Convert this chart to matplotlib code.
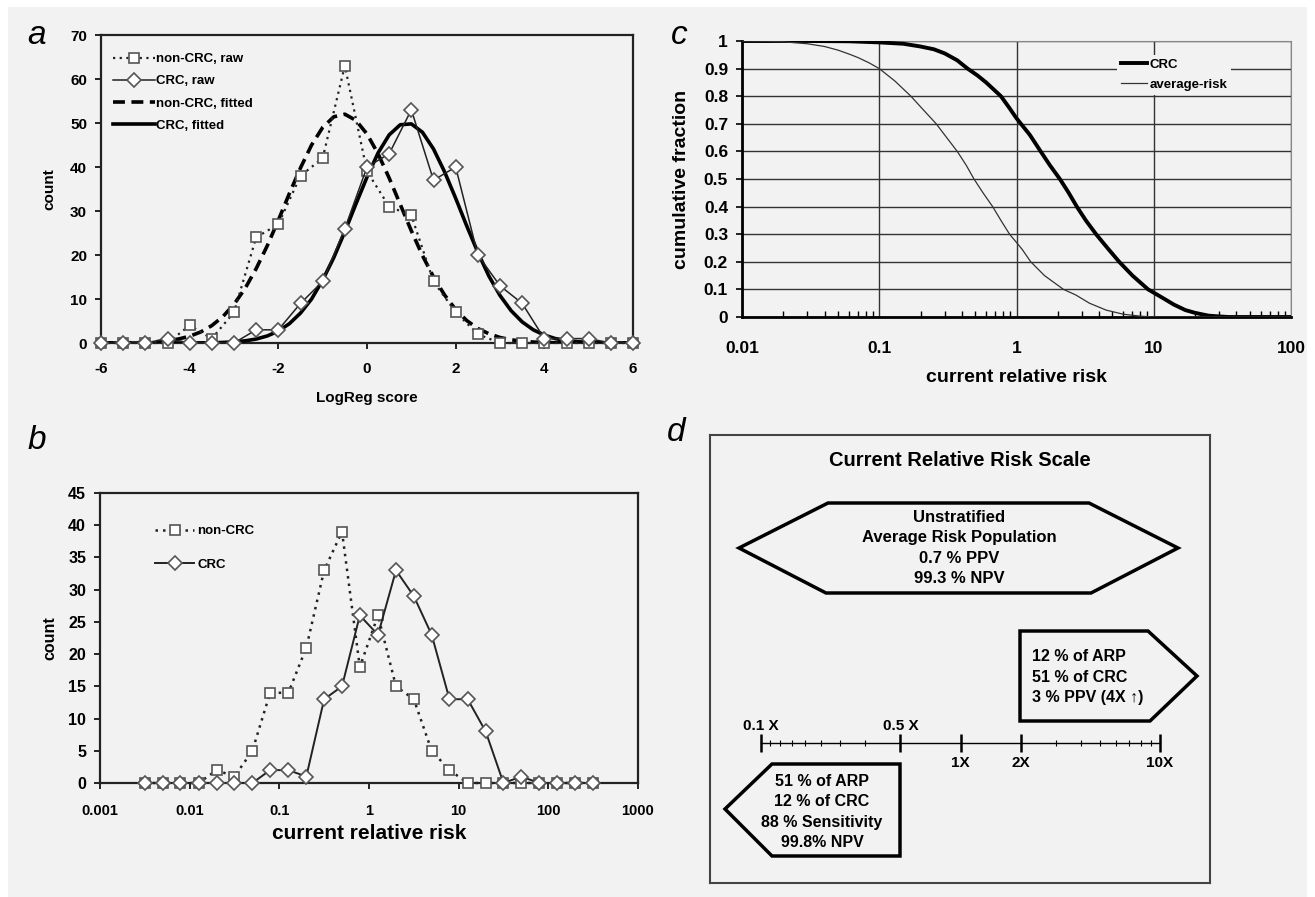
import numpy as np
import matplotlib
matplotlib.use('Agg')
import matplotlib.pyplot as plt
from matplotlib.patches import Polygon, Rectangle
from matplotlib.ticker import NullLocator, FixedLocator

plt.rcParams['font.family'] = ['Liberation Sans', 'DejaVu Sans']
plt.rcParams['font.weight'] = 'bold'
plt.rcParams['axes.labelweight'] = 'bold'

BG = '#f2f2f2'
W, H = 1315, 897

# ---- panel a: LogReg score distributions
score_bins = [-6, -5.5, -5, -4.5, -4, -3.5, -3, -2.5, -2, -1.5, -1, -0.5, 0,
              0.5, 1, 1.5, 2, 2.5, 3, 3.5, 4, 4.5, 5, 5.5, 6]
noncrc_raw = [0, 0, 0, 0, 4, 1, 7, 24, 27, 38, 42, 63, 39,
              31, 29, 14, 7, 2, 0, 0, 0, 0, 0, 0, 0]
crc_raw = [0, 0, 0, 1, 0, 0, 0, 3, 3, 9, 14, 26, 40,
           43, 53, 37, 40, 20, 13, 9, 1, 1, 1, 0, 0]
score_fine = [-6, -5.75, -5.5, -5.25, -5, -4.75, -4.5, -4.25, -4, -3.75, -3.5, -3.25,
              -3, -2.75, -2.5, -2.25, -2, -1.75, -1.5, -1.25, -1, -0.75, -0.5, -0.25,
              0, 0.25, 0.5, 0.75, 1, 1.25, 1.5, 1.75, 2, 2.25, 2.5, 2.75,
              3, 3.25, 3.5, 3.75, 4, 4.25, 4.5, 4.75, 5, 5.25, 5.5, 5.75, 6]
noncrc_fit = [0, 0.02, 0.04, 0.08, 0.15, 0.28, 0.51, 0.91, 1.54, 2.51, 3.96, 6.0,
              8.8, 12.4, 16.9, 22.1, 27.9, 34.0, 39.8, 45.0, 49.0, 51.4, 52.0, 50.6,
              47.5, 43.0, 37.5, 31.5, 25.5, 19.9, 15.0, 10.9, 7.6, 5.1, 3.3, 2.1,
              1.25, 0.73, 0.41, 0.22, 0.11, 0.06, 0.03, 0.01, 0, 0, 0, 0, 0]
crc_fit = [0, 0, 0, 0, 0, 0, 0, 0.01, 0.01, 0.03, 0.06, 0.13,
           0.25, 0.49, 0.9, 1.6, 2.7, 4.4, 6.8, 10.0, 14.3, 19.4, 25.3, 31.6,
           37.7, 43.2, 47.3, 49.6, 49.8, 47.9, 44.1, 38.9, 32.9, 26.6, 20.6, 15.2,
           10.8, 7.35, 4.8, 3.0, 1.8, 1.0, 0.55, 0.29, 0.15, 0.07, 0.03, 0.01, 0]
a_xticks = [-6, -4, -2, 0, 2, 4, 6]
a_xlabels = ['-6', '-4', '-2', '0', '2', '4', '6']

# ---- panel b: current relative risk histogram
risk_bins = [0.0032, 0.005, 0.0079, 0.0126, 0.02, 0.0316, 0.05, 0.079, 0.126,
             0.2, 0.316, 0.5, 0.79, 1.26, 2.0, 3.16, 5.0, 7.9, 12.6, 20,
             31.6, 50, 79, 126, 200, 316]
noncrc_b = [0, 0, 0, 0, 2, 1, 5, 14, 14, 21, 33, 39, 18, 26, 15, 13, 5, 2, 0, 0,
            0, 0, 0, 0, 0, 0]
crc_b = [0, 0, 0, 0, 0, 0, 0, 2, 2, 1, 13, 15, 26, 23, 33, 29, 23, 13, 13, 8,
         0, 1, 0, 0, 0, 0]
b_xticks = [0.001, 0.01, 0.1, 1, 10, 100, 1000]
b_xlabels = ['0.001', '0.01', '0.1', '1', '10', '100', '1000']

# ---- panel c: cumulative fractions
crc_c_x = [0.01, 0.03, 0.06, 0.1, 0.15, 0.2, 0.25, 0.3, 0.37, 0.44, 0.52, 0.6,
           0.68, 0.77, 0.88, 1.0, 1.25, 1.5, 1.75, 2.07, 2.4, 2.75, 3.2, 3.8,
           4.6, 5.6, 7.0, 9.1, 12, 14, 17, 20, 25, 30, 35, 100]
crc_c_y = [1.0, 1.0, 0.999, 0.995, 0.99, 0.98, 0.97, 0.955, 0.93, 0.9, 0.875, 0.85,
           0.825, 0.8, 0.76, 0.72, 0.66, 0.6, 0.55, 0.5, 0.45, 0.4, 0.35, 0.3,
           0.25, 0.2, 0.15, 0.1, 0.065, 0.045, 0.025, 0.015, 0.005, 0.002, 0.0, 0.0]
avg_c_x = [0.01, 0.015, 0.02, 0.03, 0.04, 0.05, 0.06, 0.07, 0.085, 0.1, 0.13, 0.17,
           0.21, 0.26, 0.31, 0.37, 0.43, 0.49, 0.57, 0.67, 0.77, 0.89, 1.0, 1.1,
           1.27, 1.6, 2.2, 2.7, 3.4, 4.5, 6.0, 8.0, 10, 100]
avg_c_y = [1.0, 0.999, 0.997, 0.99, 0.98, 0.967, 0.953, 0.94, 0.92, 0.9, 0.855, 0.8,
           0.75, 0.7, 0.65, 0.6, 0.55, 0.5, 0.45, 0.4, 0.35, 0.3, 0.27, 0.245,
           0.2, 0.15, 0.1, 0.08, 0.05, 0.025, 0.01, 0.003, 0.0, 0.0]
c_xticks = [0.01, 0.1, 1, 10, 100]
c_xlabels = ['0.01', '0.1', '1', '10', '100']
c_yticks = [0, 0.1, 0.2, 0.3, 0.4, 0.5, 0.6, 0.7, 0.8, 0.9, 1.0]
c_ylabels = ['0', '0.1', '0.2', '0.3', '0.4', '0.5', '0.6', '0.7', '0.8', '0.9', '1']

# ---- panel d: risk scale diagram
scale_major = [0.1, 0.5, 1, 2, 10]
scale_major_labels = ['', '', '1X', '2X', '10X']
scale_top_labels = {0.1: '0.1 X', 0.5: '0.5 X'}
scale_minor = [1/9, 1/8, 1/7, 1/6, 1/5, 1/4, 1/3, 3, 4, 5, 6, 7, 8, 9]
hex_lines = ['Unstratified', 'Average Risk Population', '0.7 % PPV', '99.3 % NPV']
high_lines = ['12 % of ARP', '51 % of CRC', '3 % PPV (4X \u2191)']
low_lines = ['51 % of ARP', '12 % of CRC', '88 % Sensitivity', '99.8% NPV']


def px_axes(left, top, right, bottom):
    return fig.add_axes([left / W, 1 - bottom / H, (right - left) / W, (bottom - top) / H])


def style_ticks(ax, size):
    for lab in ax.get_xticklabels() + ax.get_yticklabels():
        lab.set_fontsize(size)
        lab.set_fontweight('bold')


fig = plt.figure(figsize=(W / 100, H / 100), dpi=100, facecolor='white')
fig.add_artist(Rectangle((8 / W, 0), 1299 / W, 890 / H, transform=fig.transFigure,
                         facecolor=BG, edgecolor='none', zorder=-10))

sq = dict(marker='s', ms=6.5, mfc='white', mec='#555555', mew=1.2)
dm = dict(marker='D', ms=7.5, mfc='white', mec='#555555', mew=1.2)

# ---------------- panel a
ax_a = px_axes(101, 35, 633, 343)
ax_a.set_facecolor(BG)
ax_a.plot(score_bins, noncrc_raw, ls=(0, (1, 2)), lw=1.6, color='#222222',
          label='non-CRC, raw', clip_on=False, zorder=4, **sq)
ax_a.plot(score_bins, crc_raw, ls='-', lw=1.1, color='#222222',
          label='CRC, raw', clip_on=False, zorder=5, **dm)
ax_a.plot(score_fine, noncrc_fit, ls=(0, (3.3, 1.8)), lw=2.6, color='black',
          label='non-CRC, fitted', zorder=3)
ax_a.plot(score_fine, crc_fit, ls='-', lw=2.6, color='black',
          label='CRC, fitted', zorder=3)
ax_a.set_xlim(-6, 6)
ax_a.set_ylim(0, 70)
ax_a.set_xticks(a_xticks)
ax_a.set_xticklabels(a_xlabels)
ax_a.set_yticks(range(0, 71, 10))
ax_a.tick_params(axis='x', length=4, width=1.2, pad=10)
ax_a.tick_params(axis='y', length=4, width=1.2, pad=6)
style_ticks(ax_a, 11)
ax_a.set_xlabel('LogReg score', fontsize=11)
ax_a.xaxis.set_label_coords(0.5, -0.155)
ax_a.set_ylabel('count', fontsize=11)
ax_a.yaxis.set_label_coords(-0.083, 0.5)
for s in ax_a.spines.values():
    s.set_linewidth(1.6)
    s.set_color('#222222')
ax_a.legend(loc='upper left', bbox_to_anchor=(0.0, 0.98), frameon=False,
            prop=dict(size=9.5, weight='bold'), handlelength=3.2, handletextpad=0.1,
            labelspacing=0.75, numpoints=1)

# ---------------- panel b
ax_b = px_axes(100, 493, 638, 783)
ax_b.set_facecolor(BG)
ax_b.plot(risk_bins, noncrc_b, ls=(0, (1, 2)), lw=1.8, color='#222222',
          label='non-CRC', clip_on=False, zorder=4, **sq)
ax_b.plot(risk_bins, crc_b, ls='-', lw=1.4, color='#222222',
          label='CRC', clip_on=False, zorder=5, **dm)
ax_b.set_xscale('log')
ax_b.set_xlim(0.001, 1000)
ax_b.set_ylim(0, 45)
ax_b.set_xticks(b_xticks)
ax_b.set_xticklabels(b_xlabels)
ax_b.xaxis.set_minor_locator(NullLocator())
ax_b.set_yticks(range(0, 46, 5))
ax_b.tick_params(axis='x', length=4, width=1.2, pad=11)
ax_b.tick_params(axis='y', length=4, width=1.2, pad=6)
style_ticks(ax_b, 11.5)
for lab in ax_b.get_xticklabels():
    lab.set_fontsize(10.5)
ax_b.set_xlabel('current relative risk', fontsize=15)
ax_b.xaxis.set_label_coords(0.5, -0.14)
ax_b.set_ylabel('count', fontsize=11.5)
ax_b.yaxis.set_label_coords(-0.08, 0.5)
for s in ax_b.spines.values():
    s.set_linewidth(1.6)
    s.set_color('#222222')
ax_b.legend(loc='upper left', bbox_to_anchor=(0.08, 0.93), frameon=False,
            prop=dict(size=9.5, weight='bold'), handlelength=3.0, handletextpad=0.2,
            labelspacing=1.6, numpoints=1)

# ---------------- panel c
ax_c = px_axes(742, 41, 1291, 317)
ax_c.set_facecolor(BG)
ax_c.set_xscale('log')
ax_c.plot(crc_c_x, crc_c_y, color='black', lw=2.8, label='CRC', zorder=3)
ax_c.plot(avg_c_x, avg_c_y, color='#333333', lw=0.9, label='average-risk', zorder=3)
ax_c.set_xlim(0.01, 100)
ax_c.set_ylim(0, 1)
ax_c.set_xticks(c_xticks)
ax_c.set_xticklabels(c_xlabels)
ax_c.set_yticks(c_yticks)
ax_c.set_yticklabels(c_ylabels)
ax_c.grid(True, which='major', color='#333333', lw=1.0, zorder=1)
ax_c.set_axisbelow(True)
ax_c.tick_params(axis='x', which='major', direction='in', length=0, pad=17)
ax_c.tick_params(axis='x', which='minor', direction='in', length=4, width=1.0)
ax_c.tick_params(axis='y', length=4, width=1.2, pad=6)
style_ticks(ax_c, 12.5)
ax_c.set_xlabel('current relative risk', fontsize=14)
ax_c.xaxis.set_label_coords(0.5, -0.19)
ax_c.set_ylabel('cumulative fraction', fontsize=14)
ax_c.yaxis.set_label_coords(-0.095, 0.5)
ax_c.spines['left'].set_linewidth(2)
ax_c.spines['bottom'].set_linewidth(2)
ax_c.spines['top'].set_color('#888888')
ax_c.spines['right'].set_color('#888888')
ax_c.legend(loc='upper left', bbox_to_anchor=((1110 - 742) / 549, (317 - 48) / 276),
            prop=dict(size=9.5, weight='bold'), frameon=True, facecolor=BG,
            edgecolor='none', framealpha=1, fancybox=False, handlelength=2.0,
            handletextpad=0.2, labelspacing=0.6, borderpad=0.3)

# ---------------- panel d
ax_d = px_axes(710, 435, 1210, 883)
ax_d.set_facecolor(BG)
ax_d.set_xlim(0, 500)
ax_d.set_ylim(448, 0)
ax_d.set_xticks([])
ax_d.set_yticks([])
for s in ax_d.spines.values():
    s.set_linewidth(1.5)
    s.set_color('#444444')

shape_kw = dict(closed=True, facecolor=BG, edgecolor='black', lw=2.5, joinstyle='miter')
ax_d.add_patch(Polygon([(29, 113), (118, 68), (379, 68), (468, 113), (381, 158), (116, 158)],
                       **shape_kw))
ax_d.add_patch(Polygon([(310, 196), (438, 196), (487, 241), (440, 286), (310, 286)], **shape_kw))
ax_d.add_patch(Polygon([(15, 374), (62, 329), (190, 329), (190, 421), (62, 421)], **shape_kw))

ax_d.text(250, 26, 'Current Relative Risk Scale', ha='center', va='center', fontsize=14.5)
ax_d.text(249, 113, '\n'.join(hex_lines), ha='center', va='center', fontsize=12,
          linespacing=1.42)
ax_d.text(322, 242, '\n'.join(high_lines), ha='left', va='center', fontsize=11.5,
          linespacing=1.45)
ax_d.text(112, 377, '\n'.join(low_lines), ha='center', va='center', fontsize=11.5,
          linespacing=1.45)

# log scale bar inside panel d
ax_s = fig.add_axes([761 / W, 1 - 753 / H, 399 / W, 20 / H])
ax_s.patch.set_visible(False)
ax_s.set_xscale('log')
ax_s.set_xlim(0.1, 10)
ax_s.set_ylim(-1, 1)
for k in ['top', 'left', 'right']:
    ax_s.spines[k].set_visible(False)
ax_s.spines['bottom'].set_position(('data', 0))
ax_s.spines['bottom'].set_linewidth(1.0)
ax_s.set_yticks([])
ax_s.xaxis.set_major_locator(FixedLocator(scale_major))
ax_s.set_xticklabels(scale_major_labels)
ax_s.xaxis.set_minor_locator(FixedLocator(scale_minor))
ax_s.xaxis.set_minor_formatter(plt.NullFormatter())
ax_s.tick_params(axis='x', which='major', direction='inout', length=13, width=1.8,
                 pad=3, labelsize=11)
ax_s.tick_params(axis='x', which='minor', direction='inout', length=4, width=0.8)
for lab in ax_s.get_xticklabels():
    lab.set_fontweight('bold')
for v, txt in scale_top_labels.items():
    ax_s.annotate(txt, xy=(v, 0), xytext=(0, 12), textcoords='offset points',
                  ha='center', va='center', fontsize=11, fontweight='bold')

# panel letters
for letter, (x, y) in {'a': (37, 35), 'b': (37, 440), 'c': (679, 35), 'd': (676, 432)}.items():
    fig.text(x / W, 1 - y / H, letter, fontsize=24, style='italic', fontweight='normal',
             ha='center', va='center')

fig.savefig('out.png', dpi=100, facecolor='white')
